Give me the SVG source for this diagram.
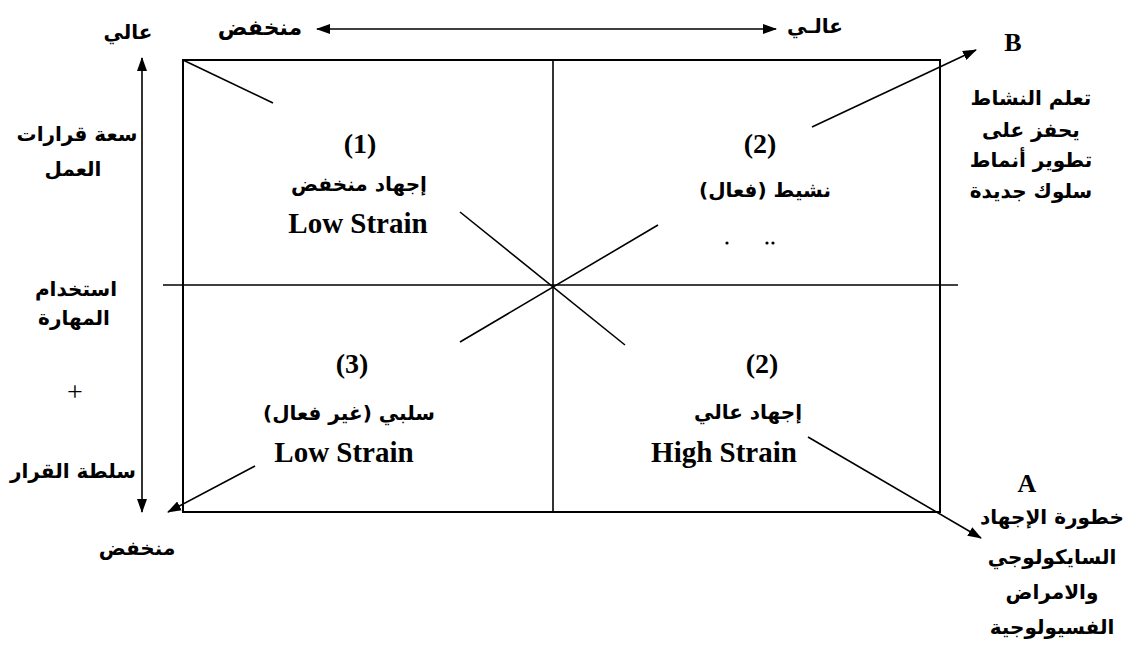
<svg xmlns="http://www.w3.org/2000/svg" width="1130" height="654" viewBox="0 0 1130 654">
<defs>
<marker id="ah" markerWidth="14" markerHeight="10" refX="13" refY="5" orient="auto-start-reverse" markerUnits="userSpaceOnUse">
<path d="M0,0 L14,5 L0,10 z" fill="#000"/>
</marker>
<style>
.ar { font-family: "DejaVu Sans", "Noto Sans", sans-serif; font-weight: bold; font-size: 20px; text-anchor: middle; fill: #000; direction: rtl; unicode-bidi: embed; }
.en { font-family: "Liberation Serif", "Times New Roman", serif; font-weight: bold; text-anchor: middle; fill: #000; }
.num { font-size: 28px; }
.lbl { font-size: 29px; }
.ln { stroke: #000; stroke-width: 2; fill: none; }
.thin { stroke: #000; stroke-width: 1.6; fill: none; }
</style>
</defs>
<rect width="1130" height="654" fill="#fff"/>

<g id="frame">
<rect x="183" y="60" width="757" height="452" class="ln"/>
<line x1="553" y1="60" x2="553" y2="512" class="thin"/>
<line x1="163" y1="285" x2="958" y2="285" class="thin"/>
</g>

<g id="connectors">
<line x1="317" y1="29" x2="776" y2="29" class="thin" marker-start="url(#ah)" marker-end="url(#ah)"/>
<line x1="142" y1="58" x2="142" y2="512" class="thin" marker-start="url(#ah)" marker-end="url(#ah)"/>
<line x1="183" y1="60" x2="273" y2="103" class="thin"/>
<line x1="460" y1="212" x2="625" y2="345" class="thin"/>
<line x1="460" y1="342" x2="658" y2="225" class="thin"/>
<line x1="812" y1="127" x2="976" y2="50" class="thin" marker-end="url(#ah)"/>
<line x1="255" y1="466" x2="168" y2="512" class="thin" marker-end="url(#ah)"/>
<line x1="808" y1="437" x2="981" y2="538" class="thin" marker-end="url(#ah)"/>
</g>

<g id="axis-top">
<text class="ar" x="128" y="39">عالي</text>
<text class="ar" x="260" y="35" style="font-size:22px">منخفض</text>
<text class="ar" x="815" y="33">عالـي</text>
</g>

<g id="axis-left">
<text class="ar" x="77" y="141">سعة قرارات</text>
<text class="ar" x="73" y="176">العمل</text>
<text class="ar" x="76" y="296">استخدام</text>
<text class="ar" x="74" y="325">المهارة</text>
<text x="75" y="401" font-family="Liberation Serif, serif" font-size="28" text-anchor="middle">+</text>
<text class="ar" x="73" y="478">سلطة القرار</text>
<text class="ar" x="137" y="555">منخفض</text>
</g>

<g id="q1">
<text class="en num" x="360" y="153">(1)</text>
<text class="ar" x="359" y="191">إجهاد منخفض</text>
<text class="en lbl" x="358" y="233">Low Strain</text>
</g>

<g id="q2-top">
<text class="en num" x="760" y="153">(2)</text>
<text class="ar" x="765" y="197">نشيط (فعال)</text>
<circle cx="727" cy="243" r="1.6" fill="#000"/>
<circle cx="767" cy="243" r="1.6" fill="#000"/>
<circle cx="773" cy="243" r="1.6" fill="#000"/>
</g>

<g id="q3">
<text class="en num" x="352" y="373">(3)</text>
<text class="ar" x="349" y="420">سلبي (غير فعال)</text>
<text class="en lbl" x="344" y="462">Low Strain</text>
</g>

<g id="q2-bottom">
<text class="en num" x="762" y="373">(2)</text>
<text class="ar" x="748" y="419">إجهاد عالي</text>
<text class="en lbl" x="724" y="462">High Strain</text>
</g>

<g id="label-b">
<text class="en" x="1013" y="51" font-size="26">B</text>
<text class="ar" x="1031" y="105">تعلم النشاط</text>
<text class="ar" x="1031" y="137">يحفز على</text>
<text class="ar" x="1031" y="167">تطوير أنماط</text>
<text class="ar" x="1031" y="198">سلوك جديدة</text>
</g>

<g id="label-a">
<text class="en" x="1027" y="492" font-size="26">A</text>
<text class="ar" x="1052" y="524">خطورة الإجهاد</text>
<text class="ar" x="1052" y="564">السايكولوجي</text>
<text class="ar" x="1052" y="599">والامراض</text>
<text class="ar" x="1052" y="634">الفسيولوجية</text>
</g>
</svg>
